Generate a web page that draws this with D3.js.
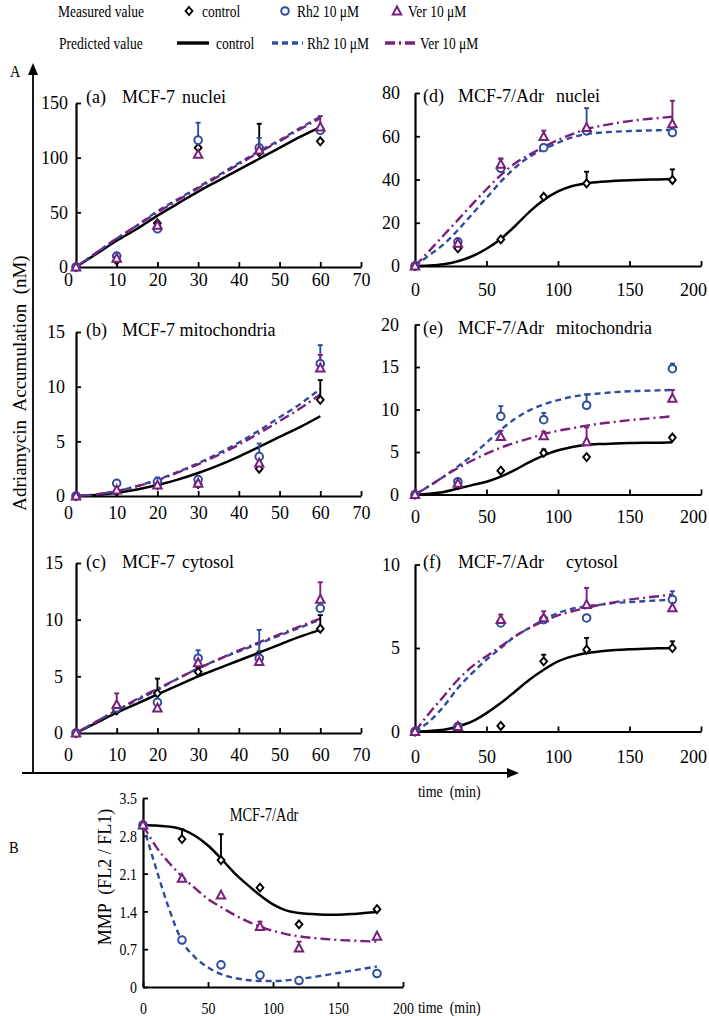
<!DOCTYPE html>
<html><head><meta charset="utf-8">
<script src="https://cdn.jsdelivr.net/npm/d3@7/dist/d3.min.js"></script>
<style>
html,body{margin:0;padding:0;background:#fff;}
svg text{font-family:"Liberation Serif","Times New Roman",serif;fill:#000;white-space:pre;}
</style></head>
<body><svg id="chart" width="709" height="1016"></svg>
<script>
// ---------------- DATA ----------------
const seriesNames = ["control", "Rh2 10 μM", "Ver 10 μM"];
const mcf7Times = [0, 10, 20, 30, 45, 60];
const adrTimes = [0, 30, 60, 90, 120, 180];
const mcf7FitTimes = [0, 5, 10, 15, 20, 25, 30, 35, 40, 45, 50, 55, 60];
const adrFitTimes = [0, 10, 20, 30, 40, 50, 60, 70, 80, 90, 100, 110, 120, 130, 140, 150, 160, 170, 180];

const leftXTicks = [0, 10, 20, 30, 40, 50, 60, 70];
const rightXTicks = [0, 50, 100, 150, 200];
const aYTicks = [0, 50, 100, 150];
const bYTicks = [0, 5, 10, 15];
const cYTicks = [0, 5, 10, 15];
const dYTicks = [0, 20, 40, 60, 80];
const eYTicks = [0, 5, 10, 15, 20];
const fYTicks = [0, 5, 10];
const mmpYTicks = [0, 0.7, 1.4, 2.1, 2.8, 3.5];

// (a) MCF-7 nuclei
const aControl = [0, 6, 40, 109, 105, 115];
const aRh2 = [0, 10, 35, 116, 109, 125];
const aVer = [0, 8, 38, 103, 107, 128];
const aControlErr = [0, 0, 0, 0, 26, 0];
const aRh2Err = [0, 0, 0, 16, 9, 0];
const aVerErr = [0, 0, 0, 0, 0, 10];
const aControlFit = [0, 12, 24, 35, 47, 58, 69, 79, 89, 99, 109, 119, 128];
const aRh2Fit = [0, 13, 26, 38, 51, 62, 73, 84, 95, 106, 116, 127, 137.5];
const aVerFit = [0, 13, 26, 38, 50, 61, 72, 83, 94, 105, 115, 126, 136];

// (b) MCF-7 mitochondria
const bControl = [0, 0.4, 1.0, 1.1, 2.5, 8.8];
const bRh2 = [0, 1.16, 1.3, 1.5, 3.6, 12.1];
const bVer = [0, 0.55, 1.0, 1.16, 3.0, 11.7];
const bControlErr = [0, 0, 0, 0, 0, 1.8];
const bRh2Err = [0, 0, 0.4, 0, 1.2, 1.7];
const bVerErr = [0, 0, 0, 0, 0.6, 1.2];
const bControlFit = [0, 0.1, 0.3, 0.6, 1.0, 1.5, 2.1, 2.8, 3.6, 4.5, 5.4, 6.3, 7.3];
const bRh2Fit = [0, 0.15, 0.45, 0.9, 1.5, 2.2, 3.0, 3.9, 4.9, 6.0, 7.2, 8.4, 9.8];
const bVerFit = [0, 0.15, 0.45, 0.9, 1.45, 2.15, 2.9, 3.75, 4.7, 5.75, 6.85, 8.0, 9.3];

// (c) MCF-7 cytosol
const cControl = [0, 2.0, 3.5, 5.4, 6.7, 9.2];
const cRh2 = [0, 2.2, 2.7, 6.6, 6.6, 11.0];
const cVer = [0, 2.5, 2.2, 6.2, 6.3, 11.8];
const cControlErr = [0, 0, 1.3, 0.4, 0.5, 1.2];
const cRh2Err = [0, 0, 0, 0.7, 2.5, 0];
const cVerErr = [0, 1.0, 0, 0, 0, 1.5];
const cControlFit = [0, 0.9, 1.8, 2.6, 3.4, 4.2, 5.0, 5.7, 6.4, 7.1, 7.8, 8.5, 9.1];
const cRh2Fit = [0, 1.0, 2.0, 2.9, 3.8, 4.8, 5.7, 6.5, 7.2, 7.9, 8.6, 9.3, 10.0];
const cVerFit = [0, 1.0, 2.0, 3.0, 3.9, 4.8, 5.7, 6.5, 7.3, 8.0, 8.7, 9.4, 10.1];

// (d) MCF-7/Adr nuclei
const dControl = [0, 8.2, 12.3, 32, 38.2, 39.8];
const dRh2 = [0, 11.2, 45.2, 54.7, 62.5, 61.7];
const dVer = [0, 10.5, 47, 59.8, 64, 65.7];
const dControlErr = [0, 0, 0, 0, 5.4, 4.9];
const dRh2Err = [0, 0, 4.6, 0, 10.5, 0];
const dVerErr = [0, 0, 2.5, 2.8, 0, 10.7];
const dControlFit = [0, 0.2, 0.8, 2.2, 4.5, 8, 12.5, 18.5, 25, 30.5, 34.5, 37, 38.3, 39, 39.4, 39.7, 39.9, 40.0, 40.2];
const dRh2Fit = [0, 5, 10, 16.6, 24, 31.5, 39, 45.5, 50.5, 54, 57, 59.5, 61, 61.7, 62.1, 62.4, 62.6, 62.8, 62.9];
const dVerFit = [0, 7, 14.2, 21.3, 28.5, 35.5, 42, 47.5, 51.5, 55, 58.3, 61, 63.3, 64.8, 66, 67, 67.8, 68.4, 69];

// (e) MCF-7/Adr mitochondria
const eControl = [0, 1.1, 2.8, 4.9, 4.4, 6.7];
const eRh2 = [0, 1.5, 9.2, 8.8, 10.5, 14.8];
const eVer = [0, 1.3, 6.8, 6.9, 6.2, 11.3];
const eControlErr = [0, 0, 0, 0.4, 0, 0];
const eRh2Err = [0, 0, 1.2, 0.8, 1.3, 0.6];
const eVerErr = [0, 0, 0.7, 0.5, 1.7, 1.0];
const eControlFit = [0, 0.1, 0.3, 0.7, 1.1, 1.5, 2.1, 2.9, 3.8, 4.6, 5.2, 5.6, 5.85, 5.95, 6.0, 6.05, 6.1, 6.1, 6.15];
const eRh2Fit = [0, 1.0, 2.1, 3.3, 4.6, 6.1, 7.6, 8.9, 9.9, 10.6, 11.1, 11.5, 11.75, 11.9, 12.05, 12.15, 12.2, 12.25, 12.3];
const eVerFit = [0, 1.0, 2.1, 3.1, 4.0, 4.8, 5.5, 6.1, 6.6, 7.1, 7.5, 7.8, 8.1, 8.35, 8.55, 8.75, 8.9, 9.05, 9.2];

// (f) MCF-7/Adr cytosol
const fControl = [0, 0.25, 0.33, 4.2, 4.9, 5.0];
const fRh2 = [0, 0.3, 6.5, 6.7, 6.8, 7.9];
const fVer = [0, 0.3, 6.7, 6.8, 7.6, 7.4];
const fControlErr = [0, 0, 0, 0.4, 0.7, 0.4];
const fRh2Err = [0, 0, 0, 0, 0, 0.5];
const fVerErr = [0, 0, 0.3, 0.4, 1.0, 0];
const fControlFit = [0, 0.03, 0.1, 0.3, 0.6, 1.1, 1.7, 2.4, 3.1, 3.7, 4.2, 4.5, 4.7, 4.8, 4.88, 4.93, 4.96, 4.98, 5.0];
const fRh2Fit = [0, 0.6, 1.5, 2.6, 3.5, 4.3, 5.0, 5.7, 6.2, 6.7, 7.1, 7.35, 7.5, 7.6, 7.7, 7.75, 7.8, 7.85, 7.9];
const fVerFit = [0, 1.1, 2.1, 3.1, 3.9, 4.5, 5.1, 5.7, 6.2, 6.6, 6.95, 7.2, 7.4, 7.6, 7.75, 7.9, 8.0, 8.1, 8.2];

// (B) MMP MCF-7/Adr
const mmpControl = [3.0, 2.74, 2.35, 1.84, 1.16, 1.44];
const mmpRh2 = [3.0, 0.87, 0.41, 0.22, 0.12, 0.25];
const mmpVer = [3.0, 2.01, 1.70, 1.12, 0.72, 0.94];
const mmpControlErr = [0, 0.18, 0.48, 0, 0, 0];
const mmpRh2Err = [0, 0, 0, 0, 0, 0];
const mmpVerErr = [0, 0, 0, 0.09, 0.12, 0];
const mmpControlFit = [3.0, 2.99, 2.97, 2.92, 2.8, 2.62, 2.38, 2.12, 1.9, 1.7, 1.53, 1.42, 1.37, 1.35, 1.34, 1.34, 1.35, 1.37, 1.39];
const mmpRh2Fit = [3.0, 2.2, 1.45, 0.85, 0.55, 0.36, 0.24, 0.17, 0.13, 0.11, 0.11, 0.12, 0.15, 0.18, 0.22, 0.26, 0.3, 0.34, 0.38];
const mmpVerFit = [3.0, 2.6, 2.3, 2.05, 1.83, 1.63, 1.48, 1.34, 1.22, 1.12, 1.04, 0.98, 0.94, 0.91, 0.89, 0.87, 0.86, 0.85, 0.84];

// ---------------- STYLE ----------------
const COLORS = ["#000000", "#2f4d9e", "#7a1f7c"];
const DASHES = [null, "6,4", "10,4,2,4"];
const SYMBOLS = ["diamond", "circle", "triangle"];

const svg = d3.select("#chart");

// compressed text helper (the original type is horizontally condensed)
function ctext(g, x, y, str, size, sx, anchor) {
  return g.append("text").attr("transform", `translate(${x},${y}) scale(${sx},1)`)
    .attr("font-size", size).attr("text-anchor", anchor || "start").text(str);
}

function marker(g, type, cx, cy, color) {
  if (type === "diamond") {
    g.append("path").attr("d", `M${cx},${cy-4}L${cx+3.4},${cy}L${cx},${cy+4}L${cx-3.4},${cy}Z`)
      .attr("fill", "#fff").attr("stroke", color).attr("stroke-width", 1.9);
  } else if (type === "circle") {
    g.append("circle").attr("cx", cx).attr("cy", cy).attr("r", 3.8)
      .attr("fill", "#fff").attr("stroke", color).attr("stroke-width", 2);
  } else {
    g.append("path").attr("d", `M${cx},${cy-4.5}L${cx+4.2},${cy+3.4}L${cx-4.2},${cy+3.4}Z`)
      .attr("fill", "#fff").attr("stroke", color).attr("stroke-width", 2);
  }
}

function panel(cfg) {
  const g = svg.append("g");
  const x = d3.scaleLinear().domain(cfg.xDomain).range(cfg.xRange);
  const y = d3.scaleLinear().domain(cfg.yDomain).range(cfg.yRange);
  const y0 = cfg.yRange[0];
  const fs = cfg.tickSize || 18, sx = cfg.tickSX || 1;

  const xa = d3.axisBottom(x).tickValues(cfg.xTicks).tickSize(-5).tickSizeOuter(0).tickPadding(0);
  const xg = g.append("g").attr("transform", `translate(0,${y0})`).call(xa);
  const ya = d3.axisLeft(y).tickValues(cfg.yTicks).tickSize(-5).tickSizeOuter(0).tickPadding(0)
    .tickFormat(d => String(d));
  const yg = g.append("g").attr("transform", `translate(${cfg.xRange[0]},0)`).call(ya);
  [xg, yg].forEach(a => {
    a.attr("font-family", null).attr("font-size", null);
    a.select(".domain").attr("stroke", "#000").attr("stroke-width", 2.2);
    a.selectAll(".tick line").attr("stroke", "#000").attr("stroke-width", 1.8);
    a.selectAll(".tick text").attr("font-size", fs).attr("fill", "#000").attr("x", null).attr("y", null).attr("dy", null);
  });
  const nX = cfg.xTicks.length;
  xg.selectAll(".tick text").attr("transform", (d, i) => {
    let dx = 0;
    if (i === 0 && cfg.firstXShift) dx = cfg.firstXShift;
    if (i === nX - 1 && cfg.lastXShift) dx = cfg.lastXShift;
    return `translate(${dx},${cfg.xLabelBase}) scale(${sx},1)`;
  });
  yg.selectAll(".tick text").attr("transform", `translate(${-cfg.yPad},${fs * 0.33}) scale(${sx},1)`);

  if (cfg.titleParts) {
    cfg.titleParts.forEach((p, i) => ctext(g, cfg.titleXs[i], cfg.titleY, p, cfg.titleSize || 18, cfg.titleSX || 1,
      cfg.titleAnchor));
  }

  const line = d3.line().x(d => x(d[0])).y(d => y(d[1])).curve(d3.curveMonotoneX);
  cfg.fits.forEach((f, i) => {
    g.append("path").datum(cfg.fitTimes.map((t, k) => [t, f[k]]))
      .attr("d", line).attr("fill", "none").attr("stroke", COLORS[i])
      .attr("stroke-width", i === 0 ? 2.5 : 2.4)
      .attr("stroke-dasharray", DASHES[i]);
  });

  cfg.obs.forEach((o, i) => {
    cfg.errs[i].forEach((e, k) => {
      if (!e) return;
      const cx = x(cfg.times[k]);
      const yt = y(o[k] + e);
      g.append("line").attr("x1", cx).attr("x2", cx).attr("y1", y(o[k])).attr("y2", yt)
        .attr("stroke", COLORS[i]).attr("stroke-width", 1.9);
      g.append("line").attr("x1", cx - 2.5).attr("x2", cx + 2.5).attr("y1", yt).attr("y2", yt)
        .attr("stroke", COLORS[i]).attr("stroke-width", 1.9);
    });
  });

  cfg.obs.forEach((o, i) => {
    o.forEach((v, k) => marker(g, SYMBOLS[i], x(cfg.times[k]), y(v), COLORS[i]));
  });
}

const L = [76, 361], R = [415, 701];
const LT = [86, 122, 182], RT = [423, 458, 556];

panel({xDomain:[0,70], xRange:L, yDomain:[0,150], yRange:[267,103], xTicks:leftXTicks, yTicks:aYTicks,
  xLabelBase:19, yPad:8, firstXShift:-8, titleParts:["(a)", "MCF-7", "nuclei"], titleXs:LT, titleY:103,
  times:mcf7Times, fitTimes:mcf7FitTimes, obs:[aControl,aRh2,aVer], errs:[aControlErr,aRh2Err,aVerErr],
  fits:[aControlFit,aRh2Fit,aVerFit]});
panel({xDomain:[0,70], xRange:L, yDomain:[0,15], yRange:[496,332], xTicks:leftXTicks, yTicks:bYTicks,
  xLabelBase:23, yPad:11, firstXShift:-8, titleParts:["(b)", "MCF-7 mitochondria"], titleXs:LT, titleY:336,
  times:mcf7Times, fitTimes:mcf7FitTimes, obs:[bControl,bRh2,bVer], errs:[bControlErr,bRh2Err,bVerErr],
  fits:[bControlFit,bRh2Fit,bVerFit]});
panel({xDomain:[0,70], xRange:L, yDomain:[0,15], yRange:[733,563], xTicks:leftXTicks, yTicks:cYTicks,
  xLabelBase:28, yPad:13, firstXShift:-8, titleParts:["(c)", "MCF-7", "cytosol"], titleXs:LT, titleY:568,
  times:mcf7Times, fitTimes:mcf7FitTimes, obs:[cControl,cRh2,cVer], errs:[cControlErr,cRh2Err,cVerErr],
  fits:[cControlFit,cRh2Fit,cVerFit]});
panel({xDomain:[0,200], xRange:R, yDomain:[0,80], yRange:[266,93], xTicks:rightXTicks, yTicks:dYTicks,
  xLabelBase:30, yPad:15, lastXShift:-8, titleParts:["(d)", "MCF-7/Adr", "nuclei"], titleXs:RT, titleY:102,
  times:adrTimes, fitTimes:adrFitTimes, obs:[dControl,dRh2,dVer], errs:[dControlErr,dRh2Err,dVerErr],
  fits:[dControlFit,dRh2Fit,dVerFit]});
panel({xDomain:[0,200], xRange:R, yDomain:[0,20], yRange:[494.5,324.5], xTicks:rightXTicks, yTicks:eYTicks,
  xLabelBase:28, yPad:16, lastXShift:-8, titleParts:["(e)", "MCF-7/Adr", "mitochondria"], titleXs:RT, titleY:334,
  times:adrTimes, fitTimes:adrFitTimes, obs:[eControl,eRh2,eVer], errs:[eControlErr,eRh2Err,eVerErr],
  fits:[eControlFit,eRh2Fit,eVerFit]});
panel({xDomain:[0,200], xRange:R, yDomain:[0,10], yRange:[731.5,564.5], xTicks:rightXTicks, yTicks:fYTicks,
  xLabelBase:31, yPad:15, lastXShift:-8, titleParts:["(f)", "MCF-7/Adr", "cytosol"], titleXs:[423, 458, 566], titleY:568,
  times:adrTimes, fitTimes:adrFitTimes, obs:[fControl,fRh2,fVer], errs:[fControlErr,fRh2Err,fVerErr],
  fits:[fControlFit,fRh2Fit,fVerFit]});
panel({xDomain:[0,200], xRange:[143,403], yDomain:[0,3.5], yRange:[987,798], xTicks:rightXTicks, yTicks:mmpYTicks,
  xLabelBase:27, yPad:6, tickSize:17, tickSX:0.82,
  titleParts:["MCF-7/Adr"], titleXs:[264], titleY:821, titleAnchor:"middle", titleSize:18, titleSX:0.8,
  times:adrTimes, fitTimes:adrFitTimes, obs:[mmpControl,mmpRh2,mmpVer], errs:[mmpControlErr,mmpRh2Err,mmpVerErr],
  fits:[mmpControlFit,mmpRh2Fit,mmpVerFit]});

// ---------------- big axes and labels ----------------
svg.append("line").attr("x1", 33).attr("x2", 33).attr("y1", 72).attr("y2", 774).attr("stroke", "#000").attr("stroke-width", 1.8);
svg.append("path").attr("d", "M33,63L38,75L28,75Z").attr("fill", "#000");
svg.append("line").attr("x1", 22).attr("x2", 510).attr("y1", 773).attr("y2", 773).attr("stroke", "#000").attr("stroke-width", 1.8);
svg.append("path").attr("d", "M519,773L507,768L507,778Z").attr("fill", "#000");
ctext(svg, 10, 77, "A", 16, 0.9);
ctext(svg, 9, 853, "B", 16, 0.9);
svg.append("text").attr("transform", "translate(26,383) rotate(-90)").attr("text-anchor", "middle")
  .attr("font-size", 19).text("Adriamycin  Accumulation  (nM)");
ctext(svg, 418, 797, "time  (min)", 17, 0.82);
ctext(svg, 418, 1013, "time  (min)", 17, 0.82);
svg.append("text").attr("transform", "translate(111,877) rotate(-90)").attr("text-anchor", "middle")
  .attr("font-size", 18).text("MMP  (FL2 / FL1)");

// ---------------- legend ----------------
const lg = svg.append("g");
ctext(lg, 58, 17, "Measured value", 16.5, 0.82);
ctext(lg, 59, 49, "Predicted value", 16.5, 0.82);
const legMarkX = [189, 285, 397], legMarkText = [202, 297, 408];
const legLine = [[177, 209], [272, 303], [385, 415]], legLineText = [216, 307, 420];
seriesNames.forEach((name, i) => {
  marker(lg, SYMBOLS[i], legMarkX[i], 11, COLORS[i]);
  ctext(lg, legMarkText[i], 17, name, 16.5, 0.82);
  lg.append("line").attr("x1", legLine[i][0]).attr("x2", legLine[i][1]).attr("y1", 43).attr("y2", 43)
    .attr("stroke", COLORS[i]).attr("stroke-width", 3.4).attr("stroke-dasharray", DASHES[i]);
  ctext(lg, legLineText[i], 49, name, 16.5, 0.82);
});
</script></body></html>
